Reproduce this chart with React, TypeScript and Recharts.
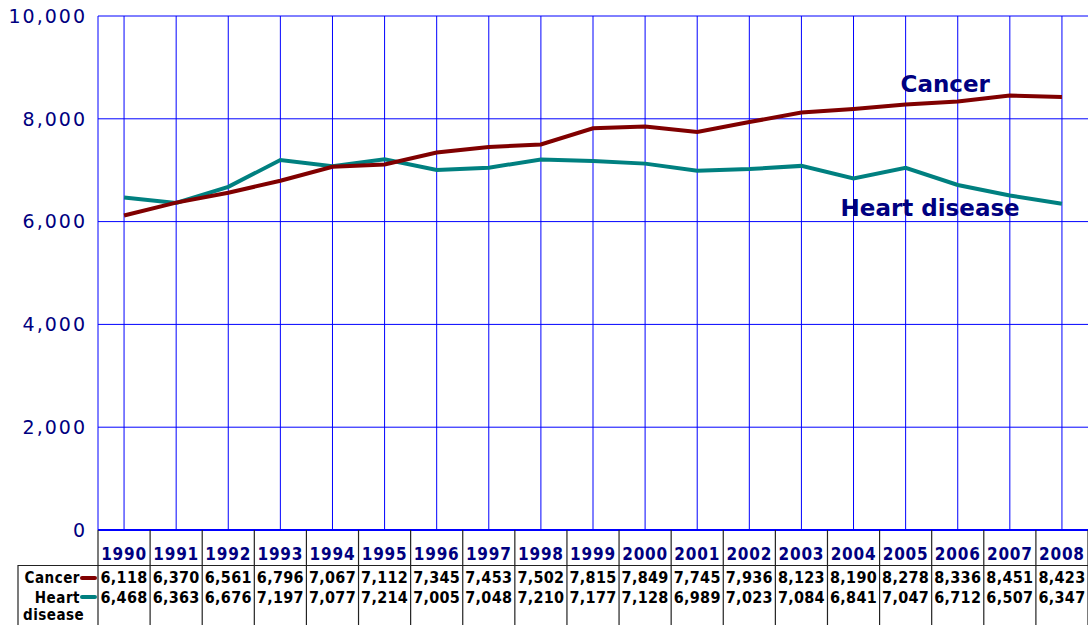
import { LineChart, Line, XAxis, YAxis, CartesianGrid, ReferenceDot } from 'recharts';

const years = [1990, 1991, 1992, 1993, 1994, 1995, 1996, 1997, 1998, 1999, 2000, 2001, 2002, 2003, 2004, 2005, 2006, 2007, 2008];
const cancer = [6118, 6370, 6561, 6796, 7067, 7112, 7345, 7453, 7502, 7815, 7849, 7745, 7936, 8123, 8190, 8278, 8336, 8451, 8423];
const heart = [6468, 6363, 6676, 7197, 7077, 7214, 7005, 7048, 7210, 7177, 7128, 6989, 7023, 7084, 6841, 7047, 6712, 6507, 6347];
const yTicks = [0, 2000, 4000, 6000, 8000, 10000];

const data = years.map((year, i) => ({ i, year, cancer: cancer[i], heart: heart[i] }));
// half steps: category centers (labels) and category boundaries (table lines)
const xTicks = Array.from({ length: years.length * 2 + 1 }, (_, k) => k / 2 - 0.5);

const FONT = '"DejaVu Sans", Verdana, sans-serif';
const TFONT = '"DejaVu Sans Condensed", "DejaVu Sans", sans-serif';
const NAVY = '#000080';
const RED = '#800000';
const TEAL = '#008080';
const fmt = (v: number) => v.toLocaleString('en-US');

// vertical grid only at the category centers
const centerLines = ({ xAxis, offset }: any) => {
  const s = xAxis?.scale;
  if (typeof s === 'function') return years.map((_, i) => s(i));
  const step = offset.width / years.length;
  return years.map((_, i) => offset.left + step * (i + 0.5));
};

const TableTick = (props: any) => {
  const { x, y, payload } = props;
  const v = payload.value as number;
  if (v % 1 !== 0) {
    // column boundary
    return (
      <g>
        <line x1={x} y1={y} x2={x} y2={y + 100} stroke="#222" strokeWidth={1.2} />
        {v < 0 && (
          <g fontFamily={TFONT} fontWeight="bold" fontSize={15} fill="#000">
            <line x1={x - 80} y1={y + 35.5} x2={1088} y2={y + 35.5} stroke="#222" strokeWidth={1.2} />
            <line x1={x - 80} y1={y + 35} x2={x - 80} y2={y + 100} stroke="#222" strokeWidth={1.2} />
            <text x={x - 18} y={y + 53} textAnchor="end" letterSpacing={0.5}>Cancer</text>
            <line x1={x - 16} y1={y + 48} x2={x - 3} y2={y + 48} stroke={RED} strokeWidth={4} strokeLinecap="round" />
            <text x={x - 18} y={y + 73} textAnchor="end" letterSpacing={0.5}>Heart</text>
            <line x1={x - 16} y1={y + 67} x2={x - 3} y2={y + 67} stroke={TEAL} strokeWidth={4} strokeLinecap="round" />
            <text x={x - 75} y={y + 90} letterSpacing={0.5}>disease</text>
          </g>
        )}
      </g>
    );
  }
  return (
    <g fontFamily={TFONT} fontWeight="bold" textAnchor="middle">
      <text x={x} y={y + 30} fontSize={17} fill={NAVY} letterSpacing={0.8}>{years[v]}</text>
      <text x={x} y={y + 53} fontSize={16} fill="#000" letterSpacing={0.3}>{fmt(cancer[v])}</text>
      <text x={x} y={y + 73} fontSize={16} fill="#000" letterSpacing={0.3}>{fmt(heart[v])}</text>
    </g>
  );
};

export default function App() {
  return (
    <div style={{ position: 'absolute', left: 0, top: 0, background: '#fff' }}>
      <LineChart width={1088} height={625} data={data} margin={{ top: 16, right: 0, bottom: 0, left: 0 }}>
        <CartesianGrid stroke="#0000ff" strokeWidth={1} verticalCoordinatesGenerator={centerLines} />
        <XAxis
          dataKey="i"
          type="number"
          domain={[-0.5, years.length - 0.5]}
          ticks={xTicks}
          interval={0}
          height={95}
          tickSize={0}
          tickMargin={0}
          tickLine={false}
          axisLine={{ stroke: '#0000ff', strokeWidth: 2 }}
          tick={<TableTick />}
        />
        <YAxis
          domain={[0, 10000]}
          ticks={yTicks}
          width={98}
          tickLine={false}
          axisLine={{ stroke: '#0000ff', strokeWidth: 1 }}
          tickMargin={5}
          tickFormatter={fmt}
          tick={{ fill: NAVY, fontSize: 19, fontFamily: FONT, letterSpacing: 2 }}
        />
        <Line dataKey="heart" stroke={TEAL} strokeWidth={4} dot={false} type="linear" isAnimationActive={false} />
        <Line dataKey="cancer" stroke={RED} strokeWidth={4} dot={false} type="linear" isAnimationActive={false} />
        <ReferenceDot
          x={15.76}
          y={8680}
          r={0}
          label={{ value: 'Cancer', position: 'center', fill: NAVY, fontSize: 23, fontWeight: 'bold', fontFamily: FONT }}
        />
        <ReferenceDot
          x={15.47}
          y={6260}
          r={0}
          label={{ value: 'Heart disease', position: 'center', fill: NAVY, fontSize: 23, fontWeight: 'bold', fontFamily: FONT }}
        />
      </LineChart>
    </div>
  );
}
